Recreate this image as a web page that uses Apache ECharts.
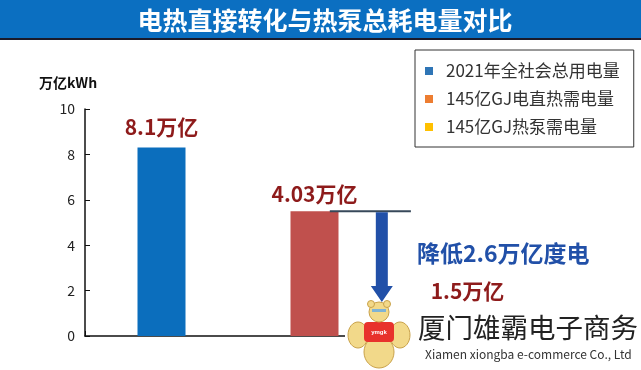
<!DOCTYPE html>
<html>
<head>
<meta charset="utf-8">
<script src="https://cdn.jsdelivr.net/npm/echarts@6/dist/echarts.min.js"></script>
<style>
html,body{margin:0;padding:0;background:#fff;}
#chart{width:641px;height:370px;}
</style>
</head>
<body>
<div id="chart"></div>
<script>
// ---- data ----
const chartTitle = '电热直接转化与热泵总耗电量对比';
const categories = ['2021年全社会总用电量', '145亿GJ电直热需电量', '145亿GJ热泵需电量'];
const seriesNames = ['2021年全社会总用电量', '145亿GJ电直热需电量', '145亿GJ热泵需电量'];
const values = [8.3, 5.5, 1.5];
const valueLabels = ['8.1万亿', '4.03万亿', '1.5万亿'];
const yTicks = [0, 2, 4, 6, 8, 10];
const yAxisName = '万亿kWh';
const reductionFrom = 5.5;
const reductionTo = 1.5;
const reductionText = '降低2.6万亿度电';
const watermarkCn = '厦门雄霸电子商务';
const watermarkEn = 'Xiamen xiongba e-commerce Co., Ltd';

// ---- styles ----
const barColors = ['#0B6EBD', '#C0504D', '#FFC000'];
const legendColors = ['#2E75B6', '#ED7D31', '#FFC000'];
const labelDist = [10, 7, 0];
const FONT = '"Noto Sans CJK SC","Noto Sans",sans-serif';

const chart = echarts.init(document.getElementById('chart'), null, {renderer: 'canvas'});

const series = seriesNames.map((name, i) => ({
  name: name,
  type: 'bar',
  stack: 'total',
  barWidth: 48,
  itemStyle: {color: barColors[i]},
  data: categories.map((c, j) => (j === i ? values[i] : '-')),
  label: {
    show: true,
    position: 'top',
    distance: labelDist[i],
    formatter: () => valueLabels[i],
    color: '#8E1B1B',
    fontSize: 21,
    fontWeight: 'bold',
    fontFamily: FONT,
    textBorderColor: 'rgba(255,255,255,0.9)',
    textBorderWidth: 2
  },
  z: 2
}));

const option = {
  animation: false,
  backgroundColor: '#fff',
  grid: {left: 85, right: 97, top: 109, bottom: 34, containLabel: false},
  legend: {
    orient: 'vertical',
    left: 415,
    top: 50,
    padding: [12, 14, 11, 10],
    itemGap: 10,
    itemWidth: 8,
    itemHeight: 8,
    icon: 'rect',
    borderColor: '#333',
    borderWidth: 1,
    textStyle: {fontSize: 17, color: '#333', fontFamily: FONT, padding: [0, 0, 0, 8], lineHeight: 18},
    data: seriesNames.map((n, i) => ({name: n, itemStyle: {color: legendColors[i]}}))
  },
  xAxis: {
    type: 'category',
    data: categories,
    axisLine: {lineStyle: {color: '#111', width: 1.5}},
    axisTick: {show: true, inside: true, length: 5, lineStyle: {color: '#111'}},
    axisLabel: {show: false},
    splitLine: {show: false}
  },
  yAxis: {
    type: 'value',
    min: yTicks[0],
    max: yTicks[yTicks.length - 1],
    interval: yTicks[1] - yTicks[0],
    name: yAxisName,
    nameLocation: 'end',
    nameGap: 19,
    nameTextStyle: {fontSize: 14, fontWeight: 'bold', color: '#111', fontFamily: FONT, align: 'center', padding: [0, 34, 0, 0]},
    axisLine: {show: true, lineStyle: {color: '#111', width: 1.5}},
    axisTick: {show: true, inside: true, length: 5, lineStyle: {color: '#111'}},
    axisLabel: {fontSize: 14, color: '#222', margin: 10, fontFamily: FONT},
    splitLine: {show: false}
  },
  series: series
};
chart.setOption(option);

// annotations positioned via the chart's own scales
const yFrom = chart.convertToPixel({yAxisIndex: 0}, reductionFrom);
const yTo = chart.convertToPixel({yAxisIndex: 0}, reductionTo);
const c1 = chart.convertToPixel({xAxisIndex: 0}, categories[1]);
const c2 = chart.convertToPixel({xAxisIndex: 0}, categories[2]);
const step = c2 - c1;
const lineX0 = c1 + 0.1 * step;
const lineX1 = c1 + 0.63 * step;
const arrowX = c1 + 0.44 * step;
const headH = 16, headW = 11, shaftW = 6;

chart.setOption({
  graphic: [
    // title banner
    {type: 'rect', shape: {x: 0, y: 0, width: 641, height: 38}, style: {fill: '#0B6FC1'}, z: 1},
    {type: 'rect', shape: {x: 0, y: 38, width: 641, height: 2}, style: {fill: '#1a1a2a'}, z: 1},
    {type: 'text', x: 325, y: 20, z: 2, style: {text: chartTitle, fill: '#fff', font: 'bold 25px ' + FONT, align: 'center', verticalAlign: 'middle', shadowColor: 'rgba(0,0,0,0.4)', shadowBlur: 2, shadowOffsetX: 1, shadowOffsetY: 1}},
    // reference line
    {type: 'line', shape: {x1: lineX0, y1: yFrom, x2: lineX1, y2: yFrom}, style: {stroke: '#37485A', lineWidth: 2}, z: 20},
    // watermark background
    {type: 'rect', shape: {x: 345, y: 302, width: 296, height: 68}, style: {fill: '#fff'}, z: 15},
    // arrow
    {type: 'polygon', z: 21, shape: {points: [
      [arrowX - shaftW, yFrom + 1], [arrowX + shaftW, yFrom + 1], [arrowX + shaftW, yTo - headH],
      [arrowX + headW, yTo - headH], [arrowX, yTo], [arrowX - headW, yTo - headH], [arrowX - shaftW, yTo - headH]
    ]}, style: {fill: '#2150A8'}},
    {type: 'text', x: 417, y: 253, z: 22, style: {text: reductionText, fill: '#2150A8', font: 'bold 23px ' + FONT, align: 'left', verticalAlign: 'middle'}},
    // watermark bear (simple)
    {type: 'ellipse', z: 16, shape: {cx: 358, cy: 335, rx: 10, ry: 13}, style: {fill: '#F2D98A', stroke: '#C9A24A', lineWidth: 1}},
    {type: 'ellipse', z: 16, shape: {cx: 400, cy: 335, rx: 10, ry: 13}, style: {fill: '#F2D98A', stroke: '#C9A24A', lineWidth: 1}},
    {type: 'ellipse', z: 16, shape: {cx: 379, cy: 352, rx: 15, ry: 16}, style: {fill: '#F2D98A', stroke: '#C9A24A', lineWidth: 1}},
    {type: 'rect', z: 17, shape: {x: 364, y: 322, width: 30, height: 20, r: 4}, style: {fill: '#E8322C'}},
    {type: 'text', z: 18, x: 379, y: 332, style: {text: 'ymgk', fill: '#fff', font: 'bold 6px sans-serif', align: 'center', verticalAlign: 'middle'}},
    {type: 'circle', z: 17, shape: {cx: 379, cy: 312, r: 10}, style: {fill: '#F2D98A', stroke: '#C9A24A', lineWidth: 1}},
    {type: 'circle', z: 17, shape: {cx: 371, cy: 304, r: 3.5}, style: {fill: '#F2D98A', stroke: '#C9A24A', lineWidth: 1}},
    {type: 'circle', z: 17, shape: {cx: 387, cy: 304, r: 3.5}, style: {fill: '#F2D98A', stroke: '#C9A24A', lineWidth: 1}},
    {type: 'rect', z: 18, shape: {x: 372, y: 309, width: 14, height: 3}, style: {fill: '#7FB3D5'}},
    {type: 'text', x: 418, y: 328, z: 19, style: {text: watermarkCn, fill: '#222', font: '27.5px ' + FONT, align: 'left', verticalAlign: 'middle'}},
    {type: 'text', x: 425, y: 354, z: 19, style: {text: watermarkEn, fill: '#333', font: '12px ' + FONT, align: 'left', verticalAlign: 'middle'}}
  ]
});
</script>
</body>
</html>
